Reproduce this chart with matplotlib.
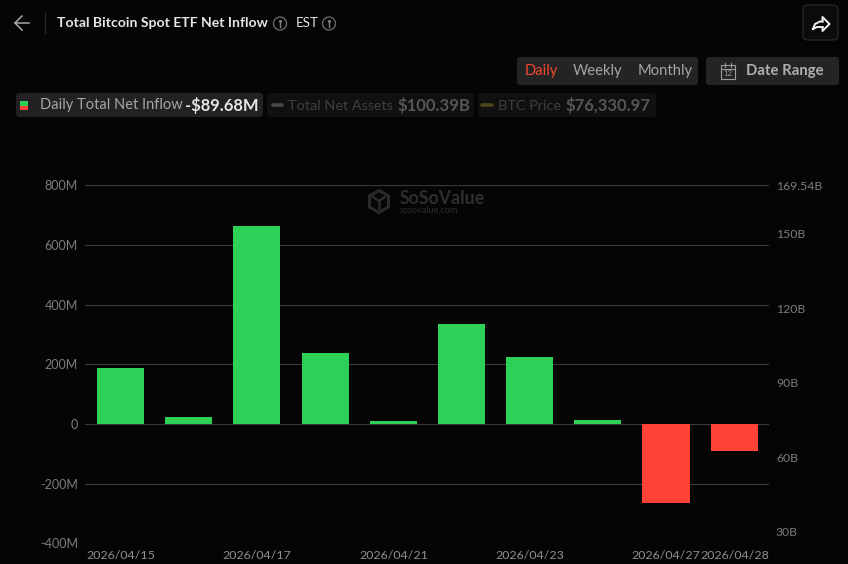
import matplotlib.pyplot as plt
from matplotlib.patches import FancyBboxPatch, Circle, RegularPolygon, Rectangle

plt.rcParams['font.family'] = ['Lato', 'DejaVu Sans']

# daily net inflow, in millions
dates = ['2026/04/15', '2026/04/16', '2026/04/17', '2026/04/20', '2026/04/21',
         '2026/04/22', '2026/04/23', '2026/04/24', '2026/04/27', '2026/04/28']
inflow = [186, 25, 663, 238, 11, 335, 223, 13, -263, -89.68]
shown_dates = [0, 2, 4, 6, 8, 9]
left_ticks = [800, 600, 400, 200, 0, -200, -400]
left_labels = ['800M', '600M', '400M', '200M', '0', '-200M', '-400M']
right_ticks = [169.54, 150, 120, 90, 60, 30]
right_labels = ['169.54B', '150B', '120B', '90B', '60B', '30B']

BG = '#050505'
GREEN = '#2ed158'
RED = '#ff4136'

W, H = 848, 564
fig = plt.figure(figsize=(W / 100, H / 100), dpi=100, facecolor=BG)

# overlay in pixel coordinates for the page chrome around the chart
ui = fig.add_axes([0, 0, 1, 1], zorder=3)
ui.set_xlim(0, W)
ui.set_ylim(H, 0)
ui.axis('off')

# main chart, plot area runs 85..769 px across and 185..543.5 px down
ax = fig.add_axes([85 / W, 1 - 543.5 / H, 684 / W, 358.5 / H], facecolor='none', zorder=2)
colors = [GREEN if v >= 0 else RED for v in inflow]
ax.bar(range(len(dates)), inflow, width=0.69, color=colors, zorder=3)
ax.set_xlim(-0.52, 9.51)
ax.set_ylim(-400, 800)
ax.set_yticks(left_ticks)
ax.set_yticklabels(left_labels)
ax.tick_params(axis='y', length=0, pad=5, labelsize=9, labelcolor='#7c7c7c')
ax.tick_params(axis='x', length=0)
ax.set_xticks([])
ax.grid(axis='y', color='#3a3a3a', linewidth=0.8, zorder=1)
ax.set_axisbelow(True)
for s in ax.spines.values():
    s.set_visible(False)

# second axis only carries the net assets scale
ax2 = ax.twinx()
ax2.set_ylim(25.2, 169.54)
ax2.set_yticks(right_ticks)
ax2.set_yticklabels(right_labels)
ax2.tick_params(axis='y', length=0, pad=5, labelsize=8.8, labelcolor='#7c7c7c')
for s in ax2.spines.values():
    s.set_visible(False)

# date labels, first and last are pulled inside the plot edges
for i in shown_dates:
    if i == 0:
        ui.text(86, 555.5, dates[i], color='#8f8f8f', fontsize=8.9, ha='left', va='center')
    elif i == len(dates) - 1:
        ui.text(769, 555.5, dates[i], color='#8f8f8f', fontsize=8.9, ha='right', va='center')
    else:
        x = 120.5 + i * 68.2
        ui.text(x, 555.5, dates[i], color='#8f8f8f', fontsize=8.9, ha='center', va='center')


def box(x0, y0, x1, y1, fc, ec='none', r=3):
    ui.add_patch(FancyBboxPatch((x0 + r, y0 + r), x1 - x0 - 2 * r, y1 - y0 - 2 * r,
                                boxstyle=f'round,pad={r},rounding_size={r}',
                                fc=fc, ec=ec, lw=0.8))


def info(x, y):
    ui.add_patch(Circle((x, y), 6.5, fc='none', ec='#707070', lw=0.9))
    ui.plot([x, x], [y - 0.5, y + 3.2], color='#808080', lw=1)
    ui.plot([x], [y - 3], marker='o', ms=1.2, color='#808080')


# header
ui.plot([15, 29], [23, 23], color='#a8a8a8', lw=1.1)
ui.plot([22, 15, 22], [16, 23, 30], color='#a8a8a8', lw=1.1)
ui.plot([44.5, 44.5], [13, 33], color='#2a2a2a', lw=0.9)
ui.text(57, 23, 'Total Bitcoin Spot ETF Net Inflow', color='#e4e6ea', fontsize=10.1,
        fontweight='bold', va='center')
info(280, 23.5)
ui.text(296, 23, 'EST', color='#e4e4e4', fontsize=9.6, va='center')
info(329, 23.5)

# share button
box(803, 5, 838, 40, '#0b0b0b', '#2c2c2c', r=5)
ui.plot([813, 815, 820, 822.5], [29, 24, 21.5, 21.5], color='#f0f0f0', lw=1.4)
ui.plot([813, 817, 822.5], [29, 27, 27], color='#f0f0f0', lw=1.4)
ui.plot([822.5, 822.5, 829.5, 822.5, 822.5], [21.5, 17, 24, 31, 27], color='#f0f0f0', lw=1.4)

# period toggle and date range
box(517, 57, 698, 85, '#242424')
ui.text(525, 71.5, 'Daily', color='#f0472d', fontsize=10.6, va='center')
ui.text(573, 71.5, 'Weekly', color='#a4a4a4', fontsize=10.6, va='center')
ui.text(637.5, 71.5, 'Monthly', color='#a4a4a4', fontsize=10.6, va='center')
box(706, 57, 839, 85, '#242424')
ui.add_patch(Rectangle((721, 65), 14, 13.5, fc='none', ec='#9a9a9a', lw=0.8))
ui.plot([721, 735], [68.5, 68.5], color='#9a9a9a', lw=0.8)
ui.plot([725, 725], [63, 66.5], color='#9a9a9a', lw=0.8)
ui.plot([731, 731], [63, 66.5], color='#9a9a9a', lw=0.8)
ui.text(728, 74, '12', color='#9a9a9a', fontsize=5.6, ha='center', va='center')
ui.text(746, 71.5, 'Date Range', color='#b0b0b0', fontsize=10.7, fontweight='bold', va='center')

# legend chips
box(16, 93, 263, 117, '#222222')
ui.add_patch(Rectangle((20, 101), 8, 4.5, fc=GREEN))
ui.add_patch(Rectangle((20, 105.5), 8, 4.5, fc=RED))
ui.text(40, 105.5, 'Daily Total Net Inflow', color='#a6a6a6', fontsize=10.5, va='center')
ui.text(185, 105.5, '-$89.68M', color='#e6e6e6', fontsize=11.9, fontweight='bold', va='center')

box(267, 93, 474, 117, '#101010')
ui.plot([273, 282], [105, 105], color='#4a4a4a', lw=2.6, solid_capstyle='round')
ui.text(288, 105.5, 'Total Net Assets', color='#3f3f3f', fontsize=10.4, va='center')
ui.text(397, 105.5, '$100.39B', color='#565656', fontsize=12, fontweight='bold', va='center')

box(478, 93, 656, 117, '#101010')
ui.plot([482, 492], [105, 105], color='#4f4318', lw=2.6, solid_capstyle='round')
ui.text(498, 105.5, 'BTC Price', color='#3f3f3f', fontsize=10.4, va='center')
ui.text(566, 105.5, '$76,330.97', color='#565656', fontsize=12, fontweight='bold', va='center')

# watermark
ui.add_patch(RegularPolygon((379, 201.5), 6, radius=11, fc='none', ec='#2a2a2a', lw=2.2))
ui.plot([373, 379, 385], [197, 201, 197], color='#2a2a2a', lw=1.8)
ui.plot([379, 379], [201, 208], color='#2a2a2a', lw=1.8)
ui.text(400, 198.5, 'SoSoValue', color='#2e2e2e', fontsize=12.8, fontweight='bold', va='center')
ui.text(400, 210.5, 'sosovalue.com', color='#2a2a2a', fontsize=6.6, va='center')

fig.savefig('out.png', dpi=100, facecolor=BG)
